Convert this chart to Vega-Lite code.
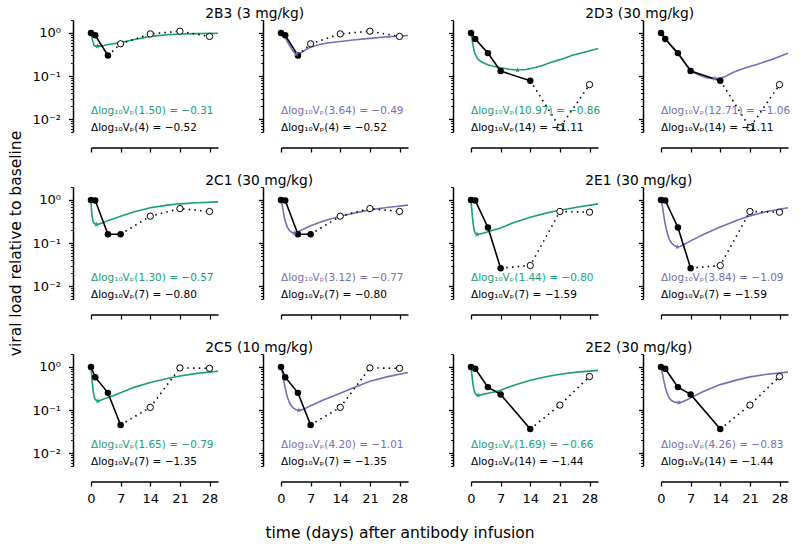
{
"$schema":"https://vega.github.io/schema/vega-lite/v6.json",
"padding":{"left":8,"top":7,"right":3,"bottom":3},
"config":{"font":"DejaVu Sans","view":{"stroke":null},"axis":{"grid":false,"domainColor":"black","tickColor":"black","labelColor":"black","titleColor":"black","domainWidth":1.5,"labelFont":"DejaVu Sans","titleFont":"DejaVu Sans","titleFontWeight":"normal"},"title":{"color":"black","font":"DejaVu Sans","fontWeight":"normal"},"text":{"font":"DejaVu Sans"}},
"datasets":{
"obs":[
{"a":"2B3","t":0,"v":1,"k":"f","d":0},{"a":"2B3","t":1,"v":0.88,"k":"f","d":0},{"a":"2B3","t":4,"v":0.30,"k":"f","d":1},{"a":"2B3","t":7,"v":0.56,"k":"o","d":1},{"a":"2B3","t":14,"v":0.95,"k":"o","d":1},{"a":"2B3","t":21,"v":1.10,"k":"o","d":1},{"a":"2B3","t":28,"v":0.83,"k":"o","d":1},
{"a":"2D3","t":0,"v":1,"k":"f","d":0},{"a":"2D3","t":1,"v":0.72,"k":"f","d":0},{"a":"2D3","t":4,"v":0.34,"k":"f","d":0},{"a":"2D3","t":7,"v":0.13,"k":"f","d":0},{"a":"2D3","t":14,"v":0.078,"k":"f","d":1},{"a":"2D3","t":21,"v":0.0063,"k":"o","d":1},{"a":"2D3","t":28,"v":0.063,"k":"o","d":1},
{"a":"2C1","t":0,"v":1,"k":"f","d":0},{"a":"2C1","t":1,"v":0.97,"k":"f","d":0},{"a":"2C1","t":4,"v":0.16,"k":"f","d":0},{"a":"2C1","t":7,"v":0.16,"k":"f","d":1},{"a":"2C1","t":14,"v":0.42,"k":"o","d":1},{"a":"2C1","t":21,"v":0.63,"k":"o","d":1},{"a":"2C1","t":28,"v":0.54,"k":"o","d":1},
{"a":"2E1","t":0,"v":1,"k":"f","d":0},{"a":"2E1","t":1,"v":0.97,"k":"f","d":0},{"a":"2E1","t":4,"v":0.23,"k":"f","d":0},{"a":"2E1","t":7,"v":0.026,"k":"f","d":1},{"a":"2E1","t":14,"v":0.030,"k":"o","d":1},{"a":"2E1","t":21,"v":0.54,"k":"o","d":1},{"a":"2E1","t":28,"v":0.52,"k":"o","d":1},
{"a":"2C5","t":0,"v":1,"k":"f","d":0},{"a":"2C5","t":1,"v":0.58,"k":"f","d":0},{"a":"2C5","t":4,"v":0.25,"k":"f","d":0},{"a":"2C5","t":7,"v":0.045,"k":"f","d":1},{"a":"2C5","t":14,"v":0.115,"k":"o","d":1},{"a":"2C5","t":21,"v":0.95,"k":"o","d":1},{"a":"2C5","t":28,"v":0.93,"k":"o","d":1},
{"a":"2E2","t":0,"v":1,"k":"f","d":0},{"a":"2E2","t":1,"v":0.91,"k":"f","d":0},{"a":"2E2","t":4,"v":0.34,"k":"f","d":0},{"a":"2E2","t":7,"v":0.23,"k":"f","d":0},{"a":"2E2","t":14,"v":0.036,"k":"f","d":1},{"a":"2E2","t":21,"v":0.13,"k":"o","d":1},{"a":"2E2","t":28,"v":0.60,"k":"o","d":1}
],
"model":[
{"a":"2B3","m":"g","t":0,"v":1},{"a":"2B3","m":"g","t":0.25,"v":0.759},{"a":"2B3","m":"g","t":0.5,"v":0.603},{"a":"2B3","m":"g","t":0.75,"v":0.513},{"a":"2B3","m":"g","t":1,"v":0.495},{"a":"2B3","m":"g","t":1.5,"v":0.490},{"a":"2B3","m":"g","t":2,"v":0.495},{"a":"2B3","m":"g","t":3,"v":0.513},{"a":"2B3","m":"g","t":4,"v":0.537},{"a":"2B3","m":"g","t":5,"v":0.556},{"a":"2B3","m":"g","t":7,"v":0.596},{"a":"2B3","m":"g","t":10,"v":0.692},{"a":"2B3","m":"g","t":14,"v":0.832},{"a":"2B3","m":"g","t":18,"v":0.912},{"a":"2B3","m":"g","t":21,"v":0.944},{"a":"2B3","m":"g","t":25,"v":0.966},{"a":"2B3","m":"g","t":30,"v":0.982},
{"a":"2B3","m":"p","t":0,"v":1},{"a":"2B3","m":"p","t":0.5,"v":0.912},{"a":"2B3","m":"p","t":1,"v":0.776},{"a":"2B3","m":"p","t":1.5,"v":0.631},{"a":"2B3","m":"p","t":2,"v":0.513},{"a":"2B3","m":"p","t":2.5,"v":0.427},{"a":"2B3","m":"p","t":3,"v":0.363},{"a":"2B3","m":"p","t":3.64,"v":0.324},{"a":"2B3","m":"p","t":4.2,"v":0.331},{"a":"2B3","m":"p","t":5,"v":0.363},{"a":"2B3","m":"p","t":6,"v":0.417},{"a":"2B3","m":"p","t":7,"v":0.468},{"a":"2B3","m":"p","t":9,"v":0.537},{"a":"2B3","m":"p","t":11,"v":0.582},{"a":"2B3","m":"p","t":14,"v":0.631},{"a":"2B3","m":"p","t":17,"v":0.684},{"a":"2B3","m":"p","t":21,"v":0.750},{"a":"2B3","m":"p","t":25,"v":0.813},{"a":"2B3","m":"p","t":30,"v":0.871},
{"a":"2D3","m":"g","t":0,"v":1},{"a":"2D3","m":"g","t":0.25,"v":0.708},{"a":"2D3","m":"g","t":0.5,"v":0.501},{"a":"2D3","m":"g","t":0.75,"v":0.380},{"a":"2D3","m":"g","t":1,"v":0.316},{"a":"2D3","m":"g","t":1.5,"v":0.257},{"a":"2D3","m":"g","t":2,"v":0.229},{"a":"2D3","m":"g","t":3,"v":0.200},{"a":"2D3","m":"g","t":4,"v":0.182},{"a":"2D3","m":"g","t":5,"v":0.170},{"a":"2D3","m":"g","t":7,"v":0.155},{"a":"2D3","m":"g","t":9,"v":0.143},{"a":"2D3","m":"g","t":10.97,"v":0.138},{"a":"2D3","m":"g","t":13,"v":0.141},{"a":"2D3","m":"g","t":15,"v":0.155},{"a":"2D3","m":"g","t":17,"v":0.178},{"a":"2D3","m":"g","t":19,"v":0.209},{"a":"2D3","m":"g","t":21,"v":0.240},{"a":"2D3","m":"g","t":24,"v":0.302},{"a":"2D3","m":"g","t":27,"v":0.363},{"a":"2D3","m":"g","t":30,"v":0.437},
{"a":"2D3","m":"p","t":0,"v":1},{"a":"2D3","m":"p","t":0.5,"v":0.891},{"a":"2D3","m":"p","t":1,"v":0.759},{"a":"2D3","m":"p","t":2,"v":0.562},{"a":"2D3","m":"p","t":3,"v":0.427},{"a":"2D3","m":"p","t":4,"v":0.331},{"a":"2D3","m":"p","t":5,"v":0.245},{"a":"2D3","m":"p","t":6,"v":0.182},{"a":"2D3","m":"p","t":7,"v":0.141},{"a":"2D3","m":"p","t":8,"v":0.117},{"a":"2D3","m":"p","t":9,"v":0.105},{"a":"2D3","m":"p","t":10,"v":0.0955},{"a":"2D3","m":"p","t":11,"v":0.0902},{"a":"2D3","m":"p","t":12,"v":0.0877},{"a":"2D3","m":"p","t":12.71,"v":0.0871},{"a":"2D3","m":"p","t":14,"v":0.0891},{"a":"2D3","m":"p","t":15,"v":0.0955},{"a":"2D3","m":"p","t":16,"v":0.107},{"a":"2D3","m":"p","t":17,"v":0.120},{"a":"2D3","m":"p","t":18,"v":0.132},{"a":"2D3","m":"p","t":20,"v":0.155},{"a":"2D3","m":"p","t":23,"v":0.191},{"a":"2D3","m":"p","t":26,"v":0.240},{"a":"2D3","m":"p","t":30,"v":0.339},
{"a":"2C1","m":"g","t":0,"v":1},{"a":"2C1","m":"g","t":0.1,"v":0.631},{"a":"2C1","m":"g","t":0.25,"v":0.417},{"a":"2C1","m":"g","t":0.5,"v":0.316},{"a":"2C1","m":"g","t":0.75,"v":0.288},{"a":"2C1","m":"g","t":1,"v":0.275},{"a":"2C1","m":"g","t":1.3,"v":0.269},{"a":"2C1","m":"g","t":1.75,"v":0.272},{"a":"2C1","m":"g","t":2.5,"v":0.288},{"a":"2C1","m":"g","t":4,"v":0.331},{"a":"2C1","m":"g","t":5.5,"v":0.372},{"a":"2C1","m":"g","t":7,"v":0.417},{"a":"2C1","m":"g","t":10,"v":0.525},{"a":"2C1","m":"g","t":14,"v":0.661},{"a":"2C1","m":"g","t":18,"v":0.759},{"a":"2C1","m":"g","t":21,"v":0.813},{"a":"2C1","m":"g","t":25,"v":0.861},{"a":"2C1","m":"g","t":30,"v":0.902},
{"a":"2C1","m":"p","t":0,"v":1},{"a":"2C1","m":"p","t":0.25,"v":0.794},{"a":"2C1","m":"p","t":0.5,"v":0.562},{"a":"2C1","m":"p","t":0.75,"v":0.417},{"a":"2C1","m":"p","t":1,"v":0.324},{"a":"2C1","m":"p","t":1.5,"v":0.234},{"a":"2C1","m":"p","t":2,"v":0.195},{"a":"2C1","m":"p","t":2.5,"v":0.178},{"a":"2C1","m":"p","t":3.12,"v":0.170},{"a":"2C1","m":"p","t":4,"v":0.180},{"a":"2C1","m":"p","t":5,"v":0.204},{"a":"2C1","m":"p","t":7,"v":0.251},{"a":"2C1","m":"p","t":10,"v":0.324},{"a":"2C1","m":"p","t":14,"v":0.417},{"a":"2C1","m":"p","t":18,"v":0.513},{"a":"2C1","m":"p","t":21,"v":0.589},{"a":"2C1","m":"p","t":25,"v":0.668},{"a":"2C1","m":"p","t":30,"v":0.759},
{"a":"2E1","m":"g","t":0,"v":1},{"a":"2E1","m":"g","t":0.25,"v":0.501},{"a":"2E1","m":"g","t":0.5,"v":0.282},{"a":"2E1","m":"g","t":0.75,"v":0.200},{"a":"2E1","m":"g","t":1,"v":0.170},{"a":"2E1","m":"g","t":1.44,"v":0.158},{"a":"2E1","m":"g","t":2,"v":0.160},{"a":"2E1","m":"g","t":3,"v":0.170},{"a":"2E1","m":"g","t":4,"v":0.182},{"a":"2E1","m":"g","t":5,"v":0.195},{"a":"2E1","m":"g","t":7,"v":0.224},{"a":"2E1","m":"g","t":10,"v":0.295},{"a":"2E1","m":"g","t":14,"v":0.398},{"a":"2E1","m":"g","t":18,"v":0.501},{"a":"2E1","m":"g","t":21,"v":0.575},{"a":"2E1","m":"g","t":25,"v":0.676},{"a":"2E1","m":"g","t":30,"v":0.81},
{"a":"2E1","m":"p","t":0,"v":1},{"a":"2E1","m":"p","t":0.25,"v":0.794},{"a":"2E1","m":"p","t":0.5,"v":0.550},{"a":"2E1","m":"p","t":0.75,"v":0.380},{"a":"2E1","m":"p","t":1,"v":0.275},{"a":"2E1","m":"p","t":1.5,"v":0.166},{"a":"2E1","m":"p","t":2,"v":0.120},{"a":"2E1","m":"p","t":2.5,"v":0.100},{"a":"2E1","m":"p","t":3,"v":0.0891},{"a":"2E1","m":"p","t":3.84,"v":0.0813},{"a":"2E1","m":"p","t":4.5,"v":0.0832},{"a":"2E1","m":"p","t":5.5,"v":0.0933},{"a":"2E1","m":"p","t":7,"v":0.112},{"a":"2E1","m":"p","t":10,"v":0.158},{"a":"2E1","m":"p","t":14,"v":0.234},{"a":"2E1","m":"p","t":18,"v":0.339},{"a":"2E1","m":"p","t":21,"v":0.427},{"a":"2E1","m":"p","t":25,"v":0.537},{"a":"2E1","m":"p","t":30,"v":0.661},
{"a":"2C5","m":"g","t":0,"v":1},{"a":"2C5","m":"g","t":0.25,"v":0.501},{"a":"2C5","m":"g","t":0.5,"v":0.282},{"a":"2C5","m":"g","t":0.75,"v":0.204},{"a":"2C5","m":"g","t":1,"v":0.178},{"a":"2C5","m":"g","t":1.3,"v":0.166},{"a":"2C5","m":"g","t":1.65,"v":0.162},{"a":"2C5","m":"g","t":2.2,"v":0.168},{"a":"2C5","m":"g","t":3,"v":0.180},{"a":"2C5","m":"g","t":4,"v":0.195},{"a":"2C5","m":"g","t":5.5,"v":0.219},{"a":"2C5","m":"g","t":7,"v":0.251},{"a":"2C5","m":"g","t":10,"v":0.331},{"a":"2C5","m":"g","t":14,"v":0.437},{"a":"2C5","m":"g","t":18,"v":0.537},{"a":"2C5","m":"g","t":21,"v":0.617},{"a":"2C5","m":"g","t":25,"v":0.708},{"a":"2C5","m":"g","t":30,"v":0.794},
{"a":"2C5","m":"p","t":0,"v":1},{"a":"2C5","m":"p","t":0.25,"v":0.794},{"a":"2C5","m":"p","t":0.5,"v":0.603},{"a":"2C5","m":"p","t":0.75,"v":0.427},{"a":"2C5","m":"p","t":1,"v":0.316},{"a":"2C5","m":"p","t":1.5,"v":0.200},{"a":"2C5","m":"p","t":2,"v":0.148},{"a":"2C5","m":"p","t":2.5,"v":0.123},{"a":"2C5","m":"p","t":3,"v":0.110},{"a":"2C5","m":"p","t":3.5,"v":0.102},{"a":"2C5","m":"p","t":4.2,"v":0.0977},{"a":"2C5","m":"p","t":5,"v":0.102},{"a":"2C5","m":"p","t":6,"v":0.112},{"a":"2C5","m":"p","t":7,"v":0.126},{"a":"2C5","m":"p","t":10,"v":0.170},{"a":"2C5","m":"p","t":14,"v":0.245},{"a":"2C5","m":"p","t":18,"v":0.355},{"a":"2C5","m":"p","t":21,"v":0.468},{"a":"2C5","m":"p","t":25,"v":0.589},{"a":"2C5","m":"p","t":30,"v":0.741},
{"a":"2E2","m":"g","t":0,"v":1},{"a":"2E2","m":"g","t":0.25,"v":0.603},{"a":"2E2","m":"g","t":0.5,"v":0.380},{"a":"2E2","m":"g","t":0.75,"v":0.282},{"a":"2E2","m":"g","t":1,"v":0.245},{"a":"2E2","m":"g","t":1.3,"v":0.226},{"a":"2E2","m":"g","t":1.69,"v":0.219},{"a":"2E2","m":"g","t":2.3,"v":0.224},{"a":"2E2","m":"g","t":3,"v":0.234},{"a":"2E2","m":"g","t":4,"v":0.245},{"a":"2E2","m":"g","t":5.5,"v":0.263},{"a":"2E2","m":"g","t":7,"v":0.288},{"a":"2E2","m":"g","t":10,"v":0.372},{"a":"2E2","m":"g","t":14,"v":0.490},{"a":"2E2","m":"g","t":18,"v":0.603},{"a":"2E2","m":"g","t":21,"v":0.676},{"a":"2E2","m":"g","t":25,"v":0.759},{"a":"2E2","m":"g","t":30,"v":0.832},
{"a":"2E2","m":"p","t":0,"v":1},{"a":"2E2","m":"p","t":0.25,"v":0.794},{"a":"2E2","m":"p","t":0.5,"v":0.589},{"a":"2E2","m":"p","t":0.75,"v":0.437},{"a":"2E2","m":"p","t":1,"v":0.339},{"a":"2E2","m":"p","t":1.5,"v":0.234},{"a":"2E2","m":"p","t":2,"v":0.186},{"a":"2E2","m":"p","t":2.5,"v":0.166},{"a":"2E2","m":"p","t":3,"v":0.155},{"a":"2E2","m":"p","t":3.5,"v":0.150},{"a":"2E2","m":"p","t":4.26,"v":0.148},{"a":"2E2","m":"p","t":5,"v":0.153},{"a":"2E2","m":"p","t":6,"v":0.170},{"a":"2E2","m":"p","t":7,"v":0.191},{"a":"2E2","m":"p","t":10,"v":0.269},{"a":"2E2","m":"p","t":14,"v":0.389},{"a":"2E2","m":"p","t":18,"v":0.501},{"a":"2E2","m":"p","t":21,"v":0.589},{"a":"2E2","m":"p","t":25,"v":0.676},{"a":"2E2","m":"p","t":30,"v":0.759}
],
"star":[
{"a":"2B3","m":"g","t":1.50,"v":0.490},{"a":"2B3","m":"p","t":3.64,"v":0.324},
{"a":"2D3","m":"g","t":10.97,"v":0.138},{"a":"2D3","m":"p","t":12.71,"v":0.0871},
{"a":"2C1","m":"g","t":1.30,"v":0.269},{"a":"2C1","m":"p","t":3.12,"v":0.170},
{"a":"2E1","m":"g","t":1.44,"v":0.158},{"a":"2E1","m":"p","t":3.84,"v":0.0813},
{"a":"2C5","m":"g","t":1.65,"v":0.162},{"a":"2C5","m":"p","t":4.20,"v":0.0977},
{"a":"2E2","m":"g","t":1.69,"v":0.219},{"a":"2E2","m":"p","t":4.26,"v":0.148}
],
"ann":[
{"a":"2B3","m":"g","t":0,"v":0.0151,"label":"Δlog₁₀Vₚ(1.50) = −0.31"},{"a":"2B3","m":"p","t":0,"v":0.0151,"label":"Δlog₁₀Vₚ(3.64) = −0.49"},{"a":"2B3","m":"k","t":0,"v":0.0063,"label":"Δlog₁₀Vₚ(4) = −0.52"},
{"a":"2D3","m":"g","t":0,"v":0.0151,"label":"Δlog₁₀Vₚ(10.97) = −0.86"},{"a":"2D3","m":"p","t":0,"v":0.0151,"label":"Δlog₁₀Vₚ(12.71) = −1.06"},{"a":"2D3","m":"k","t":0,"v":0.0063,"label":"Δlog₁₀Vₚ(14) = −1.11"},
{"a":"2C1","m":"g","t":0,"v":0.0151,"label":"Δlog₁₀Vₚ(1.30) = −0.57"},{"a":"2C1","m":"p","t":0,"v":0.0151,"label":"Δlog₁₀Vₚ(3.12) = −0.77"},{"a":"2C1","m":"k","t":0,"v":0.0063,"label":"Δlog₁₀Vₚ(7) = −0.80"},
{"a":"2E1","m":"g","t":0,"v":0.0151,"label":"Δlog₁₀Vₚ(1.44) = −0.80"},{"a":"2E1","m":"p","t":0,"v":0.0151,"label":"Δlog₁₀Vₚ(3.84) = −1.09"},{"a":"2E1","m":"k","t":0,"v":0.0063,"label":"Δlog₁₀Vₚ(7) = −1.59"},
{"a":"2C5","m":"g","t":0,"v":0.0151,"label":"Δlog₁₀Vₚ(1.65) = −0.79"},{"a":"2C5","m":"p","t":0,"v":0.0151,"label":"Δlog₁₀Vₚ(4.20) = −1.01"},{"a":"2C5","m":"k","t":0,"v":0.0063,"label":"Δlog₁₀Vₚ(7) = −1.35"},
{"a":"2E2","m":"g","t":0,"v":0.0151,"label":"Δlog₁₀Vₚ(1.69) = −0.66"},{"a":"2E2","m":"p","t":0,"v":0.0151,"label":"Δlog₁₀Vₚ(4.26) = −0.83"},{"a":"2E2","m":"k","t":0,"v":0.0063,"label":"Δlog₁₀Vₚ(14) = −1.44"}
],
"ttl":[
{"a":"2B3","t":27,"v":2.17,"label":"2B3 (3 mg/kg)"},{"a":"2D3","t":27,"v":2.17,"label":"2D3 (30 mg/kg)"},
{"a":"2C1","t":27,"v":2.17,"label":"2C1 (30 mg/kg)"},{"a":"2E1","t":27,"v":2.17,"label":"2E1 (30 mg/kg)"},
{"a":"2C5","t":27,"v":2.17,"label":"2C5 (10 mg/kg)"},{"a":"2E2","t":27,"v":2.17,"label":"2E2 (30 mg/kg)"}
]
},
"title":{"text":"time (days) after antibody infusion","orient":"bottom","anchor":"middle","fontSize":15.5,"fontWeight":"normal","baseline":"top","offset":21},
"columns":4,
"spacing":{"row":55,"column":63},
"bounds":"flush",
"concat":[
{"width":127,"height":112,
"encoding":{"x":{"field":"t","type":"quantitative","scale":{"domain":[0,30],"nice":false,"zero":false},"axis":{"values":[0,7,14,21,28],"offset":15.5,"tickSize":4.5,"tickWidth":1.3,"labels":false,"title":null}},"y":{"field":"v","type":"quantitative","scale":{"type":"log","domain":[0.005,2],"nice":false},"axis":{"values":[0.005,0.006,0.007,0.008,0.009,0.01,0.02,0.03,0.04,0.05,0.06,0.07,0.08,0.09,0.1,0.2,0.3,0.4,0.5,0.6,0.7,0.8,0.9,1,2],"offset":18,"tickSize":{"condition":{"test":"datum.value == 1 || datum.value == 0.1 || datum.value == 0.01","value":4.5},"value":2.5},"tickWidth":{"condition":{"test":"datum.value == 1 || datum.value == 0.1 || datum.value == 0.01","value":1.3},"value":0.9},"labelExpr":"datum.value == 1 ? '10⁰' : datum.value == 0.1 ? '10⁻¹' : datum.value == 0.01 ? '10⁻²' : ''","labelOverlap":false,"labelFontSize":13,"labelPadding":8,"title":null}}},
"layer":[
{"data":{"name":"model"},"transform":[{"filter":"datum.a=='2B3' && datum.m=='g'"}],"mark":{"type":"line","color":"#1b9e77","strokeWidth":1.6},"encoding":{}},
{"data":{"name":"obs"},"transform":[{"filter":"datum.a=='2B3' && datum.k=='f'"}],"mark":{"type":"line","color":"black","strokeWidth":1.6},"encoding":{}},
{"data":{"name":"obs"},"transform":[{"filter":"datum.a=='2B3' && datum.d==1"}],"mark":{"type":"line","color":"black","strokeWidth":1.6,"strokeDash":[1.5,4.2]},"encoding":{}},
{"data":{"name":"obs"},"transform":[{"filter":"datum.a=='2B3' && datum.k=='f'"}],"mark":{"type":"point","shape":"circle","filled":true,"color":"black","size":42,"opacity":1}},
{"data":{"name":"obs"},"transform":[{"filter":"datum.a=='2B3' && datum.k=='o'"}],"mark":{"type":"point","shape":"circle","filled":true,"fill":"white","stroke":"black","strokeWidth":1,"size":40,"opacity":1}},
{"data":{"name":"star"},"transform":[{"filter":"datum.a=='2B3' && datum.m=='g'"}],"mark":{"type":"point","shape":"M0,-1L0.225,-0.309L0.951,-0.309L0.363,0.118L0.588,0.809L0,0.382L-0.588,0.809L-0.363,0.118L-0.951,-0.309L-0.225,-0.309Z","filled":true,"color":"#1b9e77","size":36,"opacity":1}},
{"data":{"name":"ann"},"transform":[{"filter":"datum.a=='2B3' && (datum.m=='g' || datum.m=='k')"}],"mark":{"type":"text","align":"left","baseline":"middle","fontSize":10.5},"encoding":{"text":{"field":"label"},"color":{"field":"m","type":"nominal","scale":{"domain":["g","p","k"],"range":["#1b9e77","#7570b3","black"]},"legend":null}}},
{"data":{"name":"ttl"},"transform":[{"filter":"datum.a=='2B3'"}],"mark":{"type":"text","align":"left","baseline":"alphabetic","fontSize":13.8,"color":"black"},"encoding":{"text":{"field":"label"}}}
]},
{"width":127,"height":112,
"encoding":{"x":{"field":"t","type":"quantitative","scale":{"domain":[0,30],"nice":false,"zero":false},"axis":{"values":[0,7,14,21,28],"offset":15.5,"tickSize":4.5,"tickWidth":1.3,"labels":false,"title":null}},"y":{"field":"v","type":"quantitative","scale":{"type":"log","domain":[0.005,2],"nice":false},"axis":{"values":[0.005,0.006,0.007,0.008,0.009,0.01,0.02,0.03,0.04,0.05,0.06,0.07,0.08,0.09,0.1,0.2,0.3,0.4,0.5,0.6,0.7,0.8,0.9,1,2],"offset":18,"tickSize":{"condition":{"test":"datum.value == 1 || datum.value == 0.1 || datum.value == 0.01","value":4.5},"value":2.5},"tickWidth":{"condition":{"test":"datum.value == 1 || datum.value == 0.1 || datum.value == 0.01","value":1.3},"value":0.9},"labels":false,"title":null}}},
"layer":[
{"data":{"name":"model"},"transform":[{"filter":"datum.a=='2B3' && datum.m=='p'"}],"mark":{"type":"line","color":"#7570b3","strokeWidth":1.6},"encoding":{}},
{"data":{"name":"obs"},"transform":[{"filter":"datum.a=='2B3' && datum.k=='f'"}],"mark":{"type":"line","color":"black","strokeWidth":1.6},"encoding":{}},
{"data":{"name":"obs"},"transform":[{"filter":"datum.a=='2B3' && datum.d==1"}],"mark":{"type":"line","color":"black","strokeWidth":1.6,"strokeDash":[1.5,4.2]},"encoding":{}},
{"data":{"name":"obs"},"transform":[{"filter":"datum.a=='2B3' && datum.k=='f'"}],"mark":{"type":"point","shape":"circle","filled":true,"color":"black","size":42,"opacity":1}},
{"data":{"name":"obs"},"transform":[{"filter":"datum.a=='2B3' && datum.k=='o'"}],"mark":{"type":"point","shape":"circle","filled":true,"fill":"white","stroke":"black","strokeWidth":1,"size":40,"opacity":1}},
{"data":{"name":"star"},"transform":[{"filter":"datum.a=='2B3' && datum.m=='p'"}],"mark":{"type":"point","shape":"M0,-1L0.225,-0.309L0.951,-0.309L0.363,0.118L0.588,0.809L0,0.382L-0.588,0.809L-0.363,0.118L-0.951,-0.309L-0.225,-0.309Z","filled":true,"color":"#7570b3","size":36,"opacity":1}},
{"data":{"name":"ann"},"transform":[{"filter":"datum.a=='2B3' && (datum.m=='p' || datum.m=='k')"}],"mark":{"type":"text","align":"left","baseline":"middle","fontSize":10.5},"encoding":{"text":{"field":"label"},"color":{"field":"m","type":"nominal","scale":{"domain":["g","p","k"],"range":["#1b9e77","#7570b3","black"]},"legend":null}}}
]},
{"width":127,"height":112,
"encoding":{"x":{"field":"t","type":"quantitative","scale":{"domain":[0,30],"nice":false,"zero":false},"axis":{"values":[0,7,14,21,28],"offset":15.5,"tickSize":4.5,"tickWidth":1.3,"labels":false,"title":null}},"y":{"field":"v","type":"quantitative","scale":{"type":"log","domain":[0.005,2],"nice":false},"axis":{"values":[0.005,0.006,0.007,0.008,0.009,0.01,0.02,0.03,0.04,0.05,0.06,0.07,0.08,0.09,0.1,0.2,0.3,0.4,0.5,0.6,0.7,0.8,0.9,1,2],"offset":18,"tickSize":{"condition":{"test":"datum.value == 1 || datum.value == 0.1 || datum.value == 0.01","value":4.5},"value":2.5},"tickWidth":{"condition":{"test":"datum.value == 1 || datum.value == 0.1 || datum.value == 0.01","value":1.3},"value":0.9},"labels":false,"title":null}}},
"layer":[
{"data":{"name":"model"},"transform":[{"filter":"datum.a=='2D3' && datum.m=='g'"}],"mark":{"type":"line","color":"#1b9e77","strokeWidth":1.6},"encoding":{}},
{"data":{"name":"obs"},"transform":[{"filter":"datum.a=='2D3' && datum.k=='f'"}],"mark":{"type":"line","color":"black","strokeWidth":1.6},"encoding":{}},
{"data":{"name":"obs"},"transform":[{"filter":"datum.a=='2D3' && datum.d==1"}],"mark":{"type":"line","color":"black","strokeWidth":1.6,"strokeDash":[1.5,4.2]},"encoding":{}},
{"data":{"name":"obs"},"transform":[{"filter":"datum.a=='2D3' && datum.k=='f'"}],"mark":{"type":"point","shape":"circle","filled":true,"color":"black","size":42,"opacity":1}},
{"data":{"name":"obs"},"transform":[{"filter":"datum.a=='2D3' && datum.k=='o'"}],"mark":{"type":"point","shape":"circle","filled":true,"fill":"white","stroke":"black","strokeWidth":1,"size":40,"opacity":1}},
{"data":{"name":"star"},"transform":[{"filter":"datum.a=='2D3' && datum.m=='g'"}],"mark":{"type":"point","shape":"M0,-1L0.225,-0.309L0.951,-0.309L0.363,0.118L0.588,0.809L0,0.382L-0.588,0.809L-0.363,0.118L-0.951,-0.309L-0.225,-0.309Z","filled":true,"color":"#1b9e77","size":36,"opacity":1}},
{"data":{"name":"ann"},"transform":[{"filter":"datum.a=='2D3' && (datum.m=='g' || datum.m=='k')"}],"mark":{"type":"text","align":"left","baseline":"middle","fontSize":10.5},"encoding":{"text":{"field":"label"},"color":{"field":"m","type":"nominal","scale":{"domain":["g","p","k"],"range":["#1b9e77","#7570b3","black"]},"legend":null}}},
{"data":{"name":"ttl"},"transform":[{"filter":"datum.a=='2D3'"}],"mark":{"type":"text","align":"left","baseline":"alphabetic","fontSize":13.8,"color":"black"},"encoding":{"text":{"field":"label"}}}
]},
{"width":127,"height":112,
"encoding":{"x":{"field":"t","type":"quantitative","scale":{"domain":[0,30],"nice":false,"zero":false},"axis":{"values":[0,7,14,21,28],"offset":15.5,"tickSize":4.5,"tickWidth":1.3,"labels":false,"title":null}},"y":{"field":"v","type":"quantitative","scale":{"type":"log","domain":[0.005,2],"nice":false},"axis":{"values":[0.005,0.006,0.007,0.008,0.009,0.01,0.02,0.03,0.04,0.05,0.06,0.07,0.08,0.09,0.1,0.2,0.3,0.4,0.5,0.6,0.7,0.8,0.9,1,2],"offset":18,"tickSize":{"condition":{"test":"datum.value == 1 || datum.value == 0.1 || datum.value == 0.01","value":4.5},"value":2.5},"tickWidth":{"condition":{"test":"datum.value == 1 || datum.value == 0.1 || datum.value == 0.01","value":1.3},"value":0.9},"labels":false,"title":null}}},
"layer":[
{"data":{"name":"model"},"transform":[{"filter":"datum.a=='2D3' && datum.m=='p'"}],"mark":{"type":"line","color":"#7570b3","strokeWidth":1.6},"encoding":{}},
{"data":{"name":"obs"},"transform":[{"filter":"datum.a=='2D3' && datum.k=='f'"}],"mark":{"type":"line","color":"black","strokeWidth":1.6},"encoding":{}},
{"data":{"name":"obs"},"transform":[{"filter":"datum.a=='2D3' && datum.d==1"}],"mark":{"type":"line","color":"black","strokeWidth":1.6,"strokeDash":[1.5,4.2]},"encoding":{}},
{"data":{"name":"obs"},"transform":[{"filter":"datum.a=='2D3' && datum.k=='f'"}],"mark":{"type":"point","shape":"circle","filled":true,"color":"black","size":42,"opacity":1}},
{"data":{"name":"obs"},"transform":[{"filter":"datum.a=='2D3' && datum.k=='o'"}],"mark":{"type":"point","shape":"circle","filled":true,"fill":"white","stroke":"black","strokeWidth":1,"size":40,"opacity":1}},
{"data":{"name":"star"},"transform":[{"filter":"datum.a=='2D3' && datum.m=='p'"}],"mark":{"type":"point","shape":"M0,-1L0.225,-0.309L0.951,-0.309L0.363,0.118L0.588,0.809L0,0.382L-0.588,0.809L-0.363,0.118L-0.951,-0.309L-0.225,-0.309Z","filled":true,"color":"#7570b3","size":36,"opacity":1}},
{"data":{"name":"ann"},"transform":[{"filter":"datum.a=='2D3' && (datum.m=='p' || datum.m=='k')"}],"mark":{"type":"text","align":"left","baseline":"middle","fontSize":10.5},"encoding":{"text":{"field":"label"},"color":{"field":"m","type":"nominal","scale":{"domain":["g","p","k"],"range":["#1b9e77","#7570b3","black"]},"legend":null}}}
]},
{"width":127,"height":112,
"encoding":{"x":{"field":"t","type":"quantitative","scale":{"domain":[0,30],"nice":false,"zero":false},"axis":{"values":[0,7,14,21,28],"offset":15.5,"tickSize":4.5,"tickWidth":1.3,"labels":false,"title":null}},"y":{"field":"v","type":"quantitative","scale":{"type":"log","domain":[0.005,2],"nice":false},"axis":{"values":[0.005,0.006,0.007,0.008,0.009,0.01,0.02,0.03,0.04,0.05,0.06,0.07,0.08,0.09,0.1,0.2,0.3,0.4,0.5,0.6,0.7,0.8,0.9,1,2],"offset":18,"tickSize":{"condition":{"test":"datum.value == 1 || datum.value == 0.1 || datum.value == 0.01","value":4.5},"value":2.5},"tickWidth":{"condition":{"test":"datum.value == 1 || datum.value == 0.1 || datum.value == 0.01","value":1.3},"value":0.9},"labelExpr":"datum.value == 1 ? '10⁰' : datum.value == 0.1 ? '10⁻¹' : datum.value == 0.01 ? '10⁻²' : ''","labelOverlap":false,"labelFontSize":13,"labelPadding":8,"title":"viral load relative to baseline","titleFontSize":15.5,"titlePadding":8}}},
"layer":[
{"data":{"name":"model"},"transform":[{"filter":"datum.a=='2C1' && datum.m=='g'"}],"mark":{"type":"line","color":"#1b9e77","strokeWidth":1.6},"encoding":{}},
{"data":{"name":"obs"},"transform":[{"filter":"datum.a=='2C1' && datum.k=='f'"}],"mark":{"type":"line","color":"black","strokeWidth":1.6},"encoding":{}},
{"data":{"name":"obs"},"transform":[{"filter":"datum.a=='2C1' && datum.d==1"}],"mark":{"type":"line","color":"black","strokeWidth":1.6,"strokeDash":[1.5,4.2]},"encoding":{}},
{"data":{"name":"obs"},"transform":[{"filter":"datum.a=='2C1' && datum.k=='f'"}],"mark":{"type":"point","shape":"circle","filled":true,"color":"black","size":42,"opacity":1}},
{"data":{"name":"obs"},"transform":[{"filter":"datum.a=='2C1' && datum.k=='o'"}],"mark":{"type":"point","shape":"circle","filled":true,"fill":"white","stroke":"black","strokeWidth":1,"size":40,"opacity":1}},
{"data":{"name":"star"},"transform":[{"filter":"datum.a=='2C1' && datum.m=='g'"}],"mark":{"type":"point","shape":"M0,-1L0.225,-0.309L0.951,-0.309L0.363,0.118L0.588,0.809L0,0.382L-0.588,0.809L-0.363,0.118L-0.951,-0.309L-0.225,-0.309Z","filled":true,"color":"#1b9e77","size":36,"opacity":1}},
{"data":{"name":"ann"},"transform":[{"filter":"datum.a=='2C1' && (datum.m=='g' || datum.m=='k')"}],"mark":{"type":"text","align":"left","baseline":"middle","fontSize":10.5},"encoding":{"text":{"field":"label"},"color":{"field":"m","type":"nominal","scale":{"domain":["g","p","k"],"range":["#1b9e77","#7570b3","black"]},"legend":null}}},
{"data":{"name":"ttl"},"transform":[{"filter":"datum.a=='2C1'"}],"mark":{"type":"text","align":"left","baseline":"alphabetic","fontSize":13.8,"color":"black"},"encoding":{"text":{"field":"label"}}}
]},
{"width":127,"height":112,
"encoding":{"x":{"field":"t","type":"quantitative","scale":{"domain":[0,30],"nice":false,"zero":false},"axis":{"values":[0,7,14,21,28],"offset":15.5,"tickSize":4.5,"tickWidth":1.3,"labels":false,"title":null}},"y":{"field":"v","type":"quantitative","scale":{"type":"log","domain":[0.005,2],"nice":false},"axis":{"values":[0.005,0.006,0.007,0.008,0.009,0.01,0.02,0.03,0.04,0.05,0.06,0.07,0.08,0.09,0.1,0.2,0.3,0.4,0.5,0.6,0.7,0.8,0.9,1,2],"offset":18,"tickSize":{"condition":{"test":"datum.value == 1 || datum.value == 0.1 || datum.value == 0.01","value":4.5},"value":2.5},"tickWidth":{"condition":{"test":"datum.value == 1 || datum.value == 0.1 || datum.value == 0.01","value":1.3},"value":0.9},"labels":false,"title":null}}},
"layer":[
{"data":{"name":"model"},"transform":[{"filter":"datum.a=='2C1' && datum.m=='p'"}],"mark":{"type":"line","color":"#7570b3","strokeWidth":1.6},"encoding":{}},
{"data":{"name":"obs"},"transform":[{"filter":"datum.a=='2C1' && datum.k=='f'"}],"mark":{"type":"line","color":"black","strokeWidth":1.6},"encoding":{}},
{"data":{"name":"obs"},"transform":[{"filter":"datum.a=='2C1' && datum.d==1"}],"mark":{"type":"line","color":"black","strokeWidth":1.6,"strokeDash":[1.5,4.2]},"encoding":{}},
{"data":{"name":"obs"},"transform":[{"filter":"datum.a=='2C1' && datum.k=='f'"}],"mark":{"type":"point","shape":"circle","filled":true,"color":"black","size":42,"opacity":1}},
{"data":{"name":"obs"},"transform":[{"filter":"datum.a=='2C1' && datum.k=='o'"}],"mark":{"type":"point","shape":"circle","filled":true,"fill":"white","stroke":"black","strokeWidth":1,"size":40,"opacity":1}},
{"data":{"name":"star"},"transform":[{"filter":"datum.a=='2C1' && datum.m=='p'"}],"mark":{"type":"point","shape":"M0,-1L0.225,-0.309L0.951,-0.309L0.363,0.118L0.588,0.809L0,0.382L-0.588,0.809L-0.363,0.118L-0.951,-0.309L-0.225,-0.309Z","filled":true,"color":"#7570b3","size":36,"opacity":1}},
{"data":{"name":"ann"},"transform":[{"filter":"datum.a=='2C1' && (datum.m=='p' || datum.m=='k')"}],"mark":{"type":"text","align":"left","baseline":"middle","fontSize":10.5},"encoding":{"text":{"field":"label"},"color":{"field":"m","type":"nominal","scale":{"domain":["g","p","k"],"range":["#1b9e77","#7570b3","black"]},"legend":null}}}
]},
{"width":127,"height":112,
"encoding":{"x":{"field":"t","type":"quantitative","scale":{"domain":[0,30],"nice":false,"zero":false},"axis":{"values":[0,7,14,21,28],"offset":15.5,"tickSize":4.5,"tickWidth":1.3,"labels":false,"title":null}},"y":{"field":"v","type":"quantitative","scale":{"type":"log","domain":[0.005,2],"nice":false},"axis":{"values":[0.005,0.006,0.007,0.008,0.009,0.01,0.02,0.03,0.04,0.05,0.06,0.07,0.08,0.09,0.1,0.2,0.3,0.4,0.5,0.6,0.7,0.8,0.9,1,2],"offset":18,"tickSize":{"condition":{"test":"datum.value == 1 || datum.value == 0.1 || datum.value == 0.01","value":4.5},"value":2.5},"tickWidth":{"condition":{"test":"datum.value == 1 || datum.value == 0.1 || datum.value == 0.01","value":1.3},"value":0.9},"labels":false,"title":null}}},
"layer":[
{"data":{"name":"model"},"transform":[{"filter":"datum.a=='2E1' && datum.m=='g'"}],"mark":{"type":"line","color":"#1b9e77","strokeWidth":1.6},"encoding":{}},
{"data":{"name":"obs"},"transform":[{"filter":"datum.a=='2E1' && datum.k=='f'"}],"mark":{"type":"line","color":"black","strokeWidth":1.6},"encoding":{}},
{"data":{"name":"obs"},"transform":[{"filter":"datum.a=='2E1' && datum.d==1"}],"mark":{"type":"line","color":"black","strokeWidth":1.6,"strokeDash":[1.5,4.2]},"encoding":{}},
{"data":{"name":"obs"},"transform":[{"filter":"datum.a=='2E1' && datum.k=='f'"}],"mark":{"type":"point","shape":"circle","filled":true,"color":"black","size":42,"opacity":1}},
{"data":{"name":"obs"},"transform":[{"filter":"datum.a=='2E1' && datum.k=='o'"}],"mark":{"type":"point","shape":"circle","filled":true,"fill":"white","stroke":"black","strokeWidth":1,"size":40,"opacity":1}},
{"data":{"name":"star"},"transform":[{"filter":"datum.a=='2E1' && datum.m=='g'"}],"mark":{"type":"point","shape":"M0,-1L0.225,-0.309L0.951,-0.309L0.363,0.118L0.588,0.809L0,0.382L-0.588,0.809L-0.363,0.118L-0.951,-0.309L-0.225,-0.309Z","filled":true,"color":"#1b9e77","size":36,"opacity":1}},
{"data":{"name":"ann"},"transform":[{"filter":"datum.a=='2E1' && (datum.m=='g' || datum.m=='k')"}],"mark":{"type":"text","align":"left","baseline":"middle","fontSize":10.5},"encoding":{"text":{"field":"label"},"color":{"field":"m","type":"nominal","scale":{"domain":["g","p","k"],"range":["#1b9e77","#7570b3","black"]},"legend":null}}},
{"data":{"name":"ttl"},"transform":[{"filter":"datum.a=='2E1'"}],"mark":{"type":"text","align":"left","baseline":"alphabetic","fontSize":13.8,"color":"black"},"encoding":{"text":{"field":"label"}}}
]},
{"width":127,"height":112,
"encoding":{"x":{"field":"t","type":"quantitative","scale":{"domain":[0,30],"nice":false,"zero":false},"axis":{"values":[0,7,14,21,28],"offset":15.5,"tickSize":4.5,"tickWidth":1.3,"labels":false,"title":null}},"y":{"field":"v","type":"quantitative","scale":{"type":"log","domain":[0.005,2],"nice":false},"axis":{"values":[0.005,0.006,0.007,0.008,0.009,0.01,0.02,0.03,0.04,0.05,0.06,0.07,0.08,0.09,0.1,0.2,0.3,0.4,0.5,0.6,0.7,0.8,0.9,1,2],"offset":18,"tickSize":{"condition":{"test":"datum.value == 1 || datum.value == 0.1 || datum.value == 0.01","value":4.5},"value":2.5},"tickWidth":{"condition":{"test":"datum.value == 1 || datum.value == 0.1 || datum.value == 0.01","value":1.3},"value":0.9},"labels":false,"title":null}}},
"layer":[
{"data":{"name":"model"},"transform":[{"filter":"datum.a=='2E1' && datum.m=='p'"}],"mark":{"type":"line","color":"#7570b3","strokeWidth":1.6},"encoding":{}},
{"data":{"name":"obs"},"transform":[{"filter":"datum.a=='2E1' && datum.k=='f'"}],"mark":{"type":"line","color":"black","strokeWidth":1.6},"encoding":{}},
{"data":{"name":"obs"},"transform":[{"filter":"datum.a=='2E1' && datum.d==1"}],"mark":{"type":"line","color":"black","strokeWidth":1.6,"strokeDash":[1.5,4.2]},"encoding":{}},
{"data":{"name":"obs"},"transform":[{"filter":"datum.a=='2E1' && datum.k=='f'"}],"mark":{"type":"point","shape":"circle","filled":true,"color":"black","size":42,"opacity":1}},
{"data":{"name":"obs"},"transform":[{"filter":"datum.a=='2E1' && datum.k=='o'"}],"mark":{"type":"point","shape":"circle","filled":true,"fill":"white","stroke":"black","strokeWidth":1,"size":40,"opacity":1}},
{"data":{"name":"star"},"transform":[{"filter":"datum.a=='2E1' && datum.m=='p'"}],"mark":{"type":"point","shape":"M0,-1L0.225,-0.309L0.951,-0.309L0.363,0.118L0.588,0.809L0,0.382L-0.588,0.809L-0.363,0.118L-0.951,-0.309L-0.225,-0.309Z","filled":true,"color":"#7570b3","size":36,"opacity":1}},
{"data":{"name":"ann"},"transform":[{"filter":"datum.a=='2E1' && (datum.m=='p' || datum.m=='k')"}],"mark":{"type":"text","align":"left","baseline":"middle","fontSize":10.5},"encoding":{"text":{"field":"label"},"color":{"field":"m","type":"nominal","scale":{"domain":["g","p","k"],"range":["#1b9e77","#7570b3","black"]},"legend":null}}}
]},
{"width":127,"height":112,
"encoding":{"x":{"field":"t","type":"quantitative","scale":{"domain":[0,30],"nice":false,"zero":false},"axis":{"values":[0,7,14,21,28],"offset":15.5,"tickSize":4.5,"tickWidth":1.3,"labels":true,"labelFontSize":13,"labelPadding":6,"labelFlush":false,"title":null}},"y":{"field":"v","type":"quantitative","scale":{"type":"log","domain":[0.005,2],"nice":false},"axis":{"values":[0.005,0.006,0.007,0.008,0.009,0.01,0.02,0.03,0.04,0.05,0.06,0.07,0.08,0.09,0.1,0.2,0.3,0.4,0.5,0.6,0.7,0.8,0.9,1,2],"offset":18,"tickSize":{"condition":{"test":"datum.value == 1 || datum.value == 0.1 || datum.value == 0.01","value":4.5},"value":2.5},"tickWidth":{"condition":{"test":"datum.value == 1 || datum.value == 0.1 || datum.value == 0.01","value":1.3},"value":0.9},"labelExpr":"datum.value == 1 ? '10⁰' : datum.value == 0.1 ? '10⁻¹' : datum.value == 0.01 ? '10⁻²' : ''","labelOverlap":false,"labelFontSize":13,"labelPadding":8,"title":null}}},
"layer":[
{"data":{"name":"model"},"transform":[{"filter":"datum.a=='2C5' && datum.m=='g'"}],"mark":{"type":"line","color":"#1b9e77","strokeWidth":1.6},"encoding":{}},
{"data":{"name":"obs"},"transform":[{"filter":"datum.a=='2C5' && datum.k=='f'"}],"mark":{"type":"line","color":"black","strokeWidth":1.6},"encoding":{}},
{"data":{"name":"obs"},"transform":[{"filter":"datum.a=='2C5' && datum.d==1"}],"mark":{"type":"line","color":"black","strokeWidth":1.6,"strokeDash":[1.5,4.2]},"encoding":{}},
{"data":{"name":"obs"},"transform":[{"filter":"datum.a=='2C5' && datum.k=='f'"}],"mark":{"type":"point","shape":"circle","filled":true,"color":"black","size":42,"opacity":1}},
{"data":{"name":"obs"},"transform":[{"filter":"datum.a=='2C5' && datum.k=='o'"}],"mark":{"type":"point","shape":"circle","filled":true,"fill":"white","stroke":"black","strokeWidth":1,"size":40,"opacity":1}},
{"data":{"name":"star"},"transform":[{"filter":"datum.a=='2C5' && datum.m=='g'"}],"mark":{"type":"point","shape":"M0,-1L0.225,-0.309L0.951,-0.309L0.363,0.118L0.588,0.809L0,0.382L-0.588,0.809L-0.363,0.118L-0.951,-0.309L-0.225,-0.309Z","filled":true,"color":"#1b9e77","size":36,"opacity":1}},
{"data":{"name":"ann"},"transform":[{"filter":"datum.a=='2C5' && (datum.m=='g' || datum.m=='k')"}],"mark":{"type":"text","align":"left","baseline":"middle","fontSize":10.5},"encoding":{"text":{"field":"label"},"color":{"field":"m","type":"nominal","scale":{"domain":["g","p","k"],"range":["#1b9e77","#7570b3","black"]},"legend":null}}},
{"data":{"name":"ttl"},"transform":[{"filter":"datum.a=='2C5'"}],"mark":{"type":"text","align":"left","baseline":"alphabetic","fontSize":13.8,"color":"black"},"encoding":{"text":{"field":"label"}}}
]},
{"width":127,"height":112,
"encoding":{"x":{"field":"t","type":"quantitative","scale":{"domain":[0,30],"nice":false,"zero":false},"axis":{"values":[0,7,14,21,28],"offset":15.5,"tickSize":4.5,"tickWidth":1.3,"labels":true,"labelFontSize":13,"labelPadding":6,"labelFlush":false,"title":null}},"y":{"field":"v","type":"quantitative","scale":{"type":"log","domain":[0.005,2],"nice":false},"axis":{"values":[0.005,0.006,0.007,0.008,0.009,0.01,0.02,0.03,0.04,0.05,0.06,0.07,0.08,0.09,0.1,0.2,0.3,0.4,0.5,0.6,0.7,0.8,0.9,1,2],"offset":18,"tickSize":{"condition":{"test":"datum.value == 1 || datum.value == 0.1 || datum.value == 0.01","value":4.5},"value":2.5},"tickWidth":{"condition":{"test":"datum.value == 1 || datum.value == 0.1 || datum.value == 0.01","value":1.3},"value":0.9},"labels":false,"title":null}}},
"layer":[
{"data":{"name":"model"},"transform":[{"filter":"datum.a=='2C5' && datum.m=='p'"}],"mark":{"type":"line","color":"#7570b3","strokeWidth":1.6},"encoding":{}},
{"data":{"name":"obs"},"transform":[{"filter":"datum.a=='2C5' && datum.k=='f'"}],"mark":{"type":"line","color":"black","strokeWidth":1.6},"encoding":{}},
{"data":{"name":"obs"},"transform":[{"filter":"datum.a=='2C5' && datum.d==1"}],"mark":{"type":"line","color":"black","strokeWidth":1.6,"strokeDash":[1.5,4.2]},"encoding":{}},
{"data":{"name":"obs"},"transform":[{"filter":"datum.a=='2C5' && datum.k=='f'"}],"mark":{"type":"point","shape":"circle","filled":true,"color":"black","size":42,"opacity":1}},
{"data":{"name":"obs"},"transform":[{"filter":"datum.a=='2C5' && datum.k=='o'"}],"mark":{"type":"point","shape":"circle","filled":true,"fill":"white","stroke":"black","strokeWidth":1,"size":40,"opacity":1}},
{"data":{"name":"star"},"transform":[{"filter":"datum.a=='2C5' && datum.m=='p'"}],"mark":{"type":"point","shape":"M0,-1L0.225,-0.309L0.951,-0.309L0.363,0.118L0.588,0.809L0,0.382L-0.588,0.809L-0.363,0.118L-0.951,-0.309L-0.225,-0.309Z","filled":true,"color":"#7570b3","size":36,"opacity":1}},
{"data":{"name":"ann"},"transform":[{"filter":"datum.a=='2C5' && (datum.m=='p' || datum.m=='k')"}],"mark":{"type":"text","align":"left","baseline":"middle","fontSize":10.5},"encoding":{"text":{"field":"label"},"color":{"field":"m","type":"nominal","scale":{"domain":["g","p","k"],"range":["#1b9e77","#7570b3","black"]},"legend":null}}}
]},
{"width":127,"height":112,
"encoding":{"x":{"field":"t","type":"quantitative","scale":{"domain":[0,30],"nice":false,"zero":false},"axis":{"values":[0,7,14,21,28],"offset":15.5,"tickSize":4.5,"tickWidth":1.3,"labels":true,"labelFontSize":13,"labelPadding":6,"labelFlush":false,"title":null}},"y":{"field":"v","type":"quantitative","scale":{"type":"log","domain":[0.005,2],"nice":false},"axis":{"values":[0.005,0.006,0.007,0.008,0.009,0.01,0.02,0.03,0.04,0.05,0.06,0.07,0.08,0.09,0.1,0.2,0.3,0.4,0.5,0.6,0.7,0.8,0.9,1,2],"offset":18,"tickSize":{"condition":{"test":"datum.value == 1 || datum.value == 0.1 || datum.value == 0.01","value":4.5},"value":2.5},"tickWidth":{"condition":{"test":"datum.value == 1 || datum.value == 0.1 || datum.value == 0.01","value":1.3},"value":0.9},"labels":false,"title":null}}},
"layer":[
{"data":{"name":"model"},"transform":[{"filter":"datum.a=='2E2' && datum.m=='g'"}],"mark":{"type":"line","color":"#1b9e77","strokeWidth":1.6},"encoding":{}},
{"data":{"name":"obs"},"transform":[{"filter":"datum.a=='2E2' && datum.k=='f'"}],"mark":{"type":"line","color":"black","strokeWidth":1.6},"encoding":{}},
{"data":{"name":"obs"},"transform":[{"filter":"datum.a=='2E2' && datum.d==1"}],"mark":{"type":"line","color":"black","strokeWidth":1.6,"strokeDash":[1.5,4.2]},"encoding":{}},
{"data":{"name":"obs"},"transform":[{"filter":"datum.a=='2E2' && datum.k=='f'"}],"mark":{"type":"point","shape":"circle","filled":true,"color":"black","size":42,"opacity":1}},
{"data":{"name":"obs"},"transform":[{"filter":"datum.a=='2E2' && datum.k=='o'"}],"mark":{"type":"point","shape":"circle","filled":true,"fill":"white","stroke":"black","strokeWidth":1,"size":40,"opacity":1}},
{"data":{"name":"star"},"transform":[{"filter":"datum.a=='2E2' && datum.m=='g'"}],"mark":{"type":"point","shape":"M0,-1L0.225,-0.309L0.951,-0.309L0.363,0.118L0.588,0.809L0,0.382L-0.588,0.809L-0.363,0.118L-0.951,-0.309L-0.225,-0.309Z","filled":true,"color":"#1b9e77","size":36,"opacity":1}},
{"data":{"name":"ann"},"transform":[{"filter":"datum.a=='2E2' && (datum.m=='g' || datum.m=='k')"}],"mark":{"type":"text","align":"left","baseline":"middle","fontSize":10.5},"encoding":{"text":{"field":"label"},"color":{"field":"m","type":"nominal","scale":{"domain":["g","p","k"],"range":["#1b9e77","#7570b3","black"]},"legend":null}}},
{"data":{"name":"ttl"},"transform":[{"filter":"datum.a=='2E2'"}],"mark":{"type":"text","align":"left","baseline":"alphabetic","fontSize":13.8,"color":"black"},"encoding":{"text":{"field":"label"}}}
]},
{"width":127,"height":112,
"encoding":{"x":{"field":"t","type":"quantitative","scale":{"domain":[0,30],"nice":false,"zero":false},"axis":{"values":[0,7,14,21,28],"offset":15.5,"tickSize":4.5,"tickWidth":1.3,"labels":true,"labelFontSize":13,"labelPadding":6,"labelFlush":false,"title":null}},"y":{"field":"v","type":"quantitative","scale":{"type":"log","domain":[0.005,2],"nice":false},"axis":{"values":[0.005,0.006,0.007,0.008,0.009,0.01,0.02,0.03,0.04,0.05,0.06,0.07,0.08,0.09,0.1,0.2,0.3,0.4,0.5,0.6,0.7,0.8,0.9,1,2],"offset":18,"tickSize":{"condition":{"test":"datum.value == 1 || datum.value == 0.1 || datum.value == 0.01","value":4.5},"value":2.5},"tickWidth":{"condition":{"test":"datum.value == 1 || datum.value == 0.1 || datum.value == 0.01","value":1.3},"value":0.9},"labels":false,"title":null}}},
"layer":[
{"data":{"name":"model"},"transform":[{"filter":"datum.a=='2E2' && datum.m=='p'"}],"mark":{"type":"line","color":"#7570b3","strokeWidth":1.6},"encoding":{}},
{"data":{"name":"obs"},"transform":[{"filter":"datum.a=='2E2' && datum.k=='f'"}],"mark":{"type":"line","color":"black","strokeWidth":1.6},"encoding":{}},
{"data":{"name":"obs"},"transform":[{"filter":"datum.a=='2E2' && datum.d==1"}],"mark":{"type":"line","color":"black","strokeWidth":1.6,"strokeDash":[1.5,4.2]},"encoding":{}},
{"data":{"name":"obs"},"transform":[{"filter":"datum.a=='2E2' && datum.k=='f'"}],"mark":{"type":"point","shape":"circle","filled":true,"color":"black","size":42,"opacity":1}},
{"data":{"name":"obs"},"transform":[{"filter":"datum.a=='2E2' && datum.k=='o'"}],"mark":{"type":"point","shape":"circle","filled":true,"fill":"white","stroke":"black","strokeWidth":1,"size":40,"opacity":1}},
{"data":{"name":"star"},"transform":[{"filter":"datum.a=='2E2' && datum.m=='p'"}],"mark":{"type":"point","shape":"M0,-1L0.225,-0.309L0.951,-0.309L0.363,0.118L0.588,0.809L0,0.382L-0.588,0.809L-0.363,0.118L-0.951,-0.309L-0.225,-0.309Z","filled":true,"color":"#7570b3","size":36,"opacity":1}},
{"data":{"name":"ann"},"transform":[{"filter":"datum.a=='2E2' && (datum.m=='p' || datum.m=='k')"}],"mark":{"type":"text","align":"left","baseline":"middle","fontSize":10.5},"encoding":{"text":{"field":"label"},"color":{"field":"m","type":"nominal","scale":{"domain":["g","p","k"],"range":["#1b9e77","#7570b3","black"]},"legend":null}}}
]}
]
}
